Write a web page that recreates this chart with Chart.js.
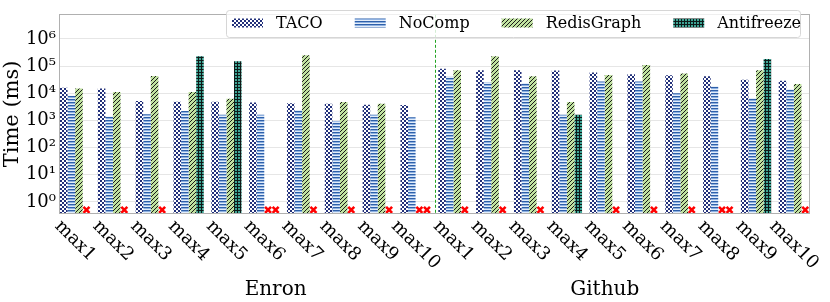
<!DOCTYPE html>
<html>
<head>
<meta charset="utf-8">
<script src="https://cdn.jsdelivr.net/npm/chart.js@4.4.0/dist/chart.umd.min.js"></script>
<style>
    html, body { margin: 0; padding: 0; background: #fff; }
</style>
</head>
<body>
<canvas id="myChart" width="830" height="302"></canvas>
<script>
// query names, two datasets of 10 each
const categories = ['max1', 'max2', 'max3', 'max4', 'max5', 'max6', 'max7', 'max8', 'max9', 'max10',
                    'max1', 'max2', 'max3', 'max4', 'max5', 'max6', 'max7', 'max8', 'max9', 'max10'];
const groupNames = ['Enron', 'Github'];
const seriesNames = ['TACO', 'NoComp', 'RedisGraph', 'Antifreeze'];
const yTicks = [1, 10, 100, 1000, 10000, 100000, 1000000];

// time in ms, null = did not finish (red cross)
const tacoTimes = [16000, 15000, 5200, 4900, 4900, 4600, 4300, 4100, 3800, 3700,
                   80000, 70000, 70000, 68000, 58000, 50000, 46000, 42000, 31000, 29000];
const noCompTimes = [8000, 1400, 1700, 2200, 1600, 1600, 2400, 920, 1600, 1300,
                     40000, 25000, 24000, 1600, 27000, 27000, 10000, 18000, 6600, 14000];
const redisTimes = [15000, 11000, 43000, 11000, 6300, null, 250000, 4800, 4100, null,
                    70000, 230000, 42000, 4800, 47000, 110000, 53000, null, 70000, 22000];
const antifreezeTimes = [null, null, null, 230000, 150000, null, null, null, null, null,
                         null, null, null, 1600, null, null, null, null, 180000, null];

const FONT = "'DejaVu Serif', serif";
const MISSING_AT = 0.51;

Chart.defaults.color = '#000';
Chart.defaults.font.family = FONT;

function makePattern(w, h, paint) {
    let c = document.createElement('canvas');
    c.width = w;
    c.height = h;
    let g = c.getContext('2d');
    paint(g, w, h);
    return g.createPattern(c, 'repeat');
}

let tacoFill = makePattern(4, 4, (g) => {
    g.fillStyle = '#ffffff';
    g.fillRect(0, 0, 4, 4);
    g.fillStyle = '#22307a';
    g.fillRect(0, 0, 2, 2);
    g.fillRect(2, 2, 2, 2);
});
let noCompFill = makePattern(2, 3, (g) => {
    g.fillStyle = '#2e60aa';
    g.fillRect(0, 0, 2, 1);
    g.fillStyle = '#8db0e0';
    g.fillRect(0, 1, 2, 1);
    g.fillStyle = '#e2ecf9';
    g.fillRect(0, 2, 2, 1);
});
let redisFill = makePattern(4, 4, (g) => {
    g.fillStyle = '#c0e2a0';
    g.fillRect(0, 0, 4, 4);
    g.strokeStyle = '#1a1a1a';
    g.lineWidth = 1;
    for (let x0 = -4; x0 <= 4; x0 += 4) {
        g.beginPath();
        g.moveTo(x0, 4);
        g.lineTo(x0 + 4, 0);
        g.stroke();
    }
});
let antifreezeFill = makePattern(3, 3, (g) => {
    g.fillStyle = '#3fa596';
    g.fillRect(0, 0, 3, 3);
    g.fillStyle = '#0d1a18';
    g.fillRect(0, 0, 3, 1);
    g.fillRect(0, 0, 1, 3);
});

const fills = [tacoFill, noCompFill, redisFill, antifreezeFill];
const seriesValues = [tacoTimes, noCompTimes, redisTimes, antifreezeTimes];

const supDigits = {'0': '⁰', '1': '¹', '2': '²', '3': '³', '4': '⁴', '5': '⁵', '6': '⁶', '7': '⁷'};

// extra drawing: frame, separator, missing markers, legend, rotated labels
const extras = {
    id: 'extras',
    beforeDatasetsDraw(chart) {
        let a = chart.chartArea;
        let x = Math.round(chart.scales.x.getPixelForValue(9.5)) + 0.5;
        let ctx = chart.ctx;
        ctx.save();
        ctx.strokeStyle = '#21a321';
        ctx.lineWidth = 1;
        ctx.setLineDash([3, 2]);
        ctx.beginPath();
        ctx.moveTo(x, a.top);
        ctx.lineTo(x, a.bottom);
        ctx.stroke();
        ctx.restore();
    },
    afterDatasetsDraw(chart) {
        let ctx = chart.ctx;
        let y = chart.scales.y.getPixelForValue(MISSING_AT);
        ctx.save();
        ctx.strokeStyle = '#ff0000';
        ctx.lineWidth = 2.6;
        chart.data.datasets.forEach((ds, d) => {
            let meta = chart.getDatasetMeta(d);
            ds.data.forEach((p, i) => {
                if (p.y !== null) return;
                let x = meta.data[i].x;
                ctx.beginPath();
                ctx.moveTo(x - 3, y - 3);
                ctx.lineTo(x + 3, y + 3);
                ctx.moveTo(x - 3, y + 3);
                ctx.lineTo(x + 3, y - 3);
                ctx.stroke();
            });
        });
        ctx.restore();
    },
    afterDraw(chart) {
        let ctx = chart.ctx;
        let a = chart.chartArea;
        let xs = chart.scales.x;
        ctx.save();

        // frame
        ctx.strokeStyle = '#b0b0b0';
        ctx.lineWidth = 1;
        ctx.strokeRect(Math.round(a.left) - 0.5, Math.round(a.top) - 0.5,
                       Math.round(a.right - a.left) + 1, Math.round(a.bottom - a.top) + 1);

        // rotated category labels
        ctx.fillStyle = '#000';
        ctx.font = '18px ' + FONT;
        ctx.textAlign = 'center';
        ctx.textBaseline = 'middle';
        categories.forEach((label, i) => {
            let cx = xs.getPixelForValue(i);
            let w = ctx.measureText(label).width;
            let bh = (w + 18) * Math.SQRT1_2;
            ctx.save();
            ctx.translate(cx, a.bottom + 4 + bh / 2);
            ctx.rotate(Math.PI / 4);
            ctx.fillText(label, 0, 0);
            ctx.restore();
        });

        // dataset names under the labels
        ctx.font = '20px ' + FONT;
        ctx.textBaseline = 'alphabetic';
        ctx.fillText(groupNames[0], xs.getPixelForValue(5.3), 295);
        ctx.fillText(groupNames[1], xs.getPixelForValue(14.0), 295);

        // legend box
        ctx.beginPath();
        ctx.roundRect(226.5, 10.5, 574, 27, 3);
        ctx.fillStyle = 'rgba(255,255,255,0.8)';
        ctx.fill();
        ctx.strokeStyle = '#d6d6d6';
        ctx.stroke();

        ctx.font = '16px ' + FONT;
        ctx.textAlign = 'left';
        ctx.textBaseline = 'middle';
        let x = 232;
        seriesNames.forEach((name, k) => {
            ctx.fillStyle = fills[k];
            ctx.fillRect(x, 18.5, 31, 9);
            ctx.fillStyle = '#000';
            ctx.fillText(name, x + 44, 24);
            x = x + 44 + ctx.measureText(name).width + 32;
        });
        ctx.restore();
    }
};

let ctx = document.getElementById('myChart').getContext('2d');
let myChart = new Chart(ctx, {
    type: 'bar',
    data: {
        datasets: seriesNames.map((name, k) => ({
            label: name,
            data: seriesValues[k].map((v, i) => ({x: i, y: v})),
            backgroundColor: fills[k],
            borderWidth: 0,
            categoryPercentage: 0.8,
            barPercentage: 1.0,
        }))
    },
    options: {
        responsive: false,
        animation: false,
        devicePixelRatio: 1,
        layout: {
            padding: {top: 3, right: 21, left: 0, bottom: 0}
        },
        plugins: {
            legend: {display: false},
            tooltip: {enabled: false}
        },
        scales: {
            x: {
                type: 'linear',
                min: -0.4,
                max: 19.4,
                offset: false,
                afterBuildTicks: (s) => { s.ticks = categories.map((c, i) => ({value: i})); },
                afterFit: (s) => { s.height = 89; },
                grid: {display: false},
                border: {display: false},
                ticks: {display: false}
            },
            y: {
                type: 'logarithmic',
                min: 0.39,
                max: 7.7e6,
                afterBuildTicks: (s) => { s.ticks = yTicks.map((v) => ({value: v})); },
                afterFit: (s) => { s.width = 60; },
                ticks: {
                    color: '#000',
                    padding: 4,
                    font: {size: 18},
                    callback: (v) => '10' + String(Math.round(Math.log10(v))).split('').map((c) => supDigits[c]).join('')
                },
                grid: {color: '#e6e6e6', drawTicks: false},
                border: {display: false},
                title: {
                    display: true,
                    text: 'Time (ms)',
                    color: '#000',
                    padding: 0,
                    font: {size: 21}
                }
            }
        }
    },
    plugins: [extras]
});
</script>
</body>
</html>
